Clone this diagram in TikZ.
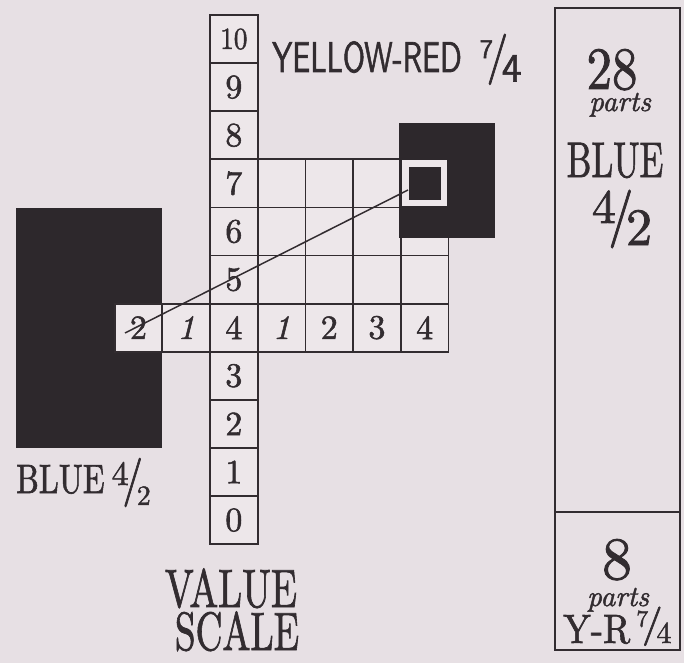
\documentclass[tikz,border=0pt]{standalone}
\usepackage{fontspec}
\usepackage{graphicx}
\newfontfamily\lmheavy{lmroman10-regular.otf}[FakeBold=1.6,ItalicFont=lmroman10-italic.otf,ItalicFeatures={FakeBold=1.6}]
\newfontfamily\lmsansheavy{lmsans10-regular.otf}[FakeBold=1.6]
\definecolor{bg}{RGB}{231,224,228}
\definecolor{cellfill}{RGB}{237,231,234}
\definecolor{ink}{RGB}{50,44,48}
\definecolor{darkfill}{RGB}{45,40,44}
% #1 num, #2 num scale, #3 num raise, #4 den, #5 den scale, #6 den raise, #7 slash vscale, #8 slash raise
\newcommand\fr[8]{\raisebox{#3em}{\scalebox{#2}{#1}}\kern-0.15em\raisebox{#8em}{\scalebox{1}[#7]{/}}\kern-0.15em\raisebox{#6em}{\scalebox{#5}{#4}}}
\newcommand\fs[1]{\fontsize{#1}{#1}\selectfont}
\begin{document}
\begin{tikzpicture}[x=1pt,y=-1pt,
  cell/.style={draw=ink,line width=1.8pt,fill=cellfill,minimum width=47.7pt,minimum height=48.1pt,inner sep=0pt,outer sep=0pt,anchor=north west,text=ink,font=\fs{34}\lmheavy},
  darkbox/.style={fill=darkfill,draw=none,inner sep=0pt,outer sep=0pt,anchor=north west},
  lbl/.style={text=ink,inner sep=0pt,anchor=base},
  panel/.style={draw=ink,line width=1.6pt,inner sep=0pt,outer sep=0pt,anchor=north west,minimum width=125pt}
]
\useasboundingbox[fill=bg] (0,0) rectangle (684,663);
% left dark swatch
\node[darkbox,minimum width=146pt,minimum height=240pt] (bluebox) at (16,208) {};
% grid of chroma steps
\foreach \c in {1,...,4}{\foreach \r in {5,6,7}{\node[cell] (g\c\r) at ({210+\c*47.7},{15+(10-\r)*48.1}) {};}}
% yellow-red swatch
\node[darkbox,minimum width=96pt,minimum height=115pt] (yrbox) at (399,123) {};
\node[fill=cellfill,inner sep=0pt,minimum width=45pt,minimum height=46pt] (yrframe) at (g47.center) {};
\node[fill=darkfill,inner sep=0pt,minimum width=32pt,minimum height=33pt] (yrchip) at (g47.center) {};
% value column
\foreach \k in {0,...,9}{\node[cell] (v\k) at (210,{15+(10-\k)*48.1}) {\k};}
\node[cell] (v10) at (210,15) {\scalebox{0.8}[0.9]{10}};
% chroma row
\foreach \c/\n/\t in {-2/hb2/2,-1/hb1/\textit{1},1/hy1/\textit{1},2/hy2/2,3/hy3/3,4/hy4/4}{\node[cell] (\n) at ({210+\c*47.7},{15+6*48.1}) {\t};}
% connector
\coordinate (pA) at (408,190);
\coordinate (pB) at (125,333);
\draw[ink,line width=1.5pt] (pA) -- (pB);
% labels
\node[lbl,anchor=base west,font=\fs{41}\lmheavy] (bluelbl) at (16,493) {\scalebox{0.78}[1]{BLUE}\hspace{7pt}\fr{4}{0.83}{0.195}{2}{0.68}{-0.29}{1.19}{-0.04}};
\node[lbl,anchor=base west,font=\fs{43}\lmsansheavy] (yrlbl) at (272,72) {\scalebox{0.7}[1]{YELLOW-RED}\hspace{18pt}\fr{7}{0.62}{0.33}{4}{0.93}{-0.22}{1.18}{0}};
\node[lbl,font=\fs{54}\lmheavy] (val) at (231,607) {\scalebox{0.71}[1]{VALUE}};
\node[lbl,font=\fs{54}\lmheavy] (scl) at (237,650) {\scalebox{0.69}[1]{SCALE}};
% right panels
\node[panel,minimum height=504pt] (ptop) at (555,8) {};
\node[panel,minimum height=138pt] (pbot) at (555,512) {};
\node[lbl,font=\fs{60}\lmheavy] (n28) at (612,89) {\scalebox{0.85}[1]{28}};
\node[lbl,font=\fs{29}\lmheavy\itshape] (p1) at (620,111) {parts};
\node[lbl,font=\fs{50}\lmheavy] (b2) at (615,177) {\scalebox{0.7}[1]{BLUE}};
\node[lbl,font=\fs{50}\lmheavy] (f2) at (622,235) {\fr{4}{0.96}{0.24}{2}{1.05}{-0.2}{1.16}{0.03}};
\node[lbl,font=\fs{60}\lmheavy] (n8) at (617,579) {8};
\node[lbl,font=\fs{29}\lmheavy\itshape] (p2) at (618,606) {parts};
\node[lbl,anchor=base west,font=\fs{41}\lmheavy] (yr2) at (563,643) {\scalebox{0.9}[1]{Y-R}\hspace{6pt}\fr{7}{0.58}{0.4}{4}{0.74}{0}{0.95}{0.17}};
\end{tikzpicture}
\end{document}
